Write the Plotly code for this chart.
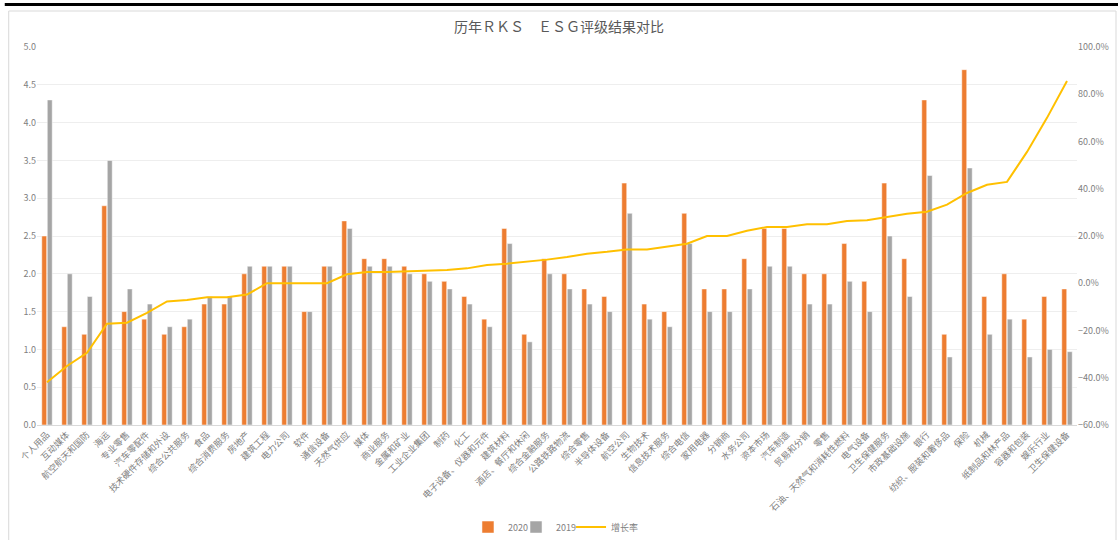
import plotly.graph_objects as go

categories = ["个人用品", "互动媒体", "航空航天和国防", "海运", "专业零售", "汽车零配件",
              "技术硬件存储和外设", "综合公共服务", "食品", "综合消费服务", "房地产", "建筑工程",
              "电力公司", "软件", "通信设备", "天然气供应", "媒体", "商业服务", "金属和矿业",
              "工业企业集团", "制药", "化工", "电子设备、仪器和元件", "建筑材料", "酒店、餐厅和休闲",
              "综合金融服务", "公路铁路物流", "综合零售", "半导体设备", "航空公司", "生物技术",
              "信息技术服务", "综合电信", "家用电器", "分销商", "水务公司", "资本市场", "汽车制造",
              "贸易和分销", "零售", "石油、天然气和消耗性燃料", "电气设备", "卫生保健服务",
              "市政基础设施", "银行", "纺织、服装和奢侈品", "保险", "机械", "纸制品和林产品",
              "容器和包装", "娱乐行业", "卫生保健设备"]

values_2020 = [2.5, 1.3, 1.2, 2.9, 1.5, 1.4, 1.2, 1.3, 1.6, 1.6, 2.0, 2.1, 2.1, 1.5, 2.1, 2.7,
               2.2, 2.2, 2.1, 2.0, 1.9, 1.7, 1.4, 2.6, 1.2, 2.2, 2.0, 1.8, 1.7, 3.2, 1.6, 1.5,
               2.8, 1.8, 1.8, 2.2, 2.6, 2.6, 2.0, 2.0, 2.4, 1.9, 3.2, 2.2, 4.3, 1.2, 4.7, 1.7,
               2.0, 1.4, 1.7, 1.8]

values_2019 = [4.3, 2.0, 1.7, 3.5, 1.8, 1.6, 1.3, 1.4, 1.7, 1.7, 2.1, 2.1, 2.1, 1.5, 2.1, 2.6,
               2.1, 2.1, 2.0, 1.9, 1.8, 1.6, 1.3, 2.4, 1.1, 2.0, 1.8, 1.6, 1.5, 2.8, 1.4, 1.3,
               2.4, 1.5, 1.5, 1.8, 2.1, 2.1, 1.6, 1.6, 1.9, 1.5, 2.5, 1.7, 3.3, 0.9, 3.4, 1.2,
               1.4, 0.9, 1.0, 0.97]

growth = [-0.419, -0.35, -0.294, -0.171, -0.167, -0.125, -0.077, -0.071, -0.059, -0.059,
          -0.048, 0.0, 0.0, 0.0, 0.0, 0.038, 0.048, 0.048, 0.05, 0.053, 0.056, 0.063, 0.077,
          0.083, 0.091, 0.10, 0.111, 0.125, 0.133, 0.143, 0.143, 0.154, 0.167, 0.20, 0.20,
          0.222, 0.238, 0.238, 0.25, 0.25, 0.263, 0.267, 0.28, 0.294, 0.303, 0.333, 0.382,
          0.417, 0.429, 0.556, 0.70, 0.856]

title_text = "历年ＲＫＳ　ＥＳＧ评级结果对比"

font_family = "Noto Sans CJK SC, Noto Sans, sans-serif"
tick_color = "#7f7f7f"

fig = go.Figure()
fig.add_trace(go.Bar(x=categories, y=values_2020, name="2020", legend="legend",
                     marker=dict(color="#ED7D31", line=dict(color="white", width=0.5))))
fig.add_trace(go.Bar(x=categories, y=values_2019, name="2019", legend="legend2",
                     marker=dict(color="#A5A5A5", line=dict(color="white", width=0.5))))
fig.add_trace(go.Scatter(x=categories, y=growth, name="增长率", mode="lines", legend="legend3",
                         line=dict(color="#FFC000", width=2), yaxis="y2"))

leg_common = dict(orientation="h", xanchor="left", y=-0.27, yanchor="middle",
                  font=dict(size=9, color=tick_color), bgcolor="rgba(0,0,0,0)")

fig.update_layout(
    width=1118, height=540,
    paper_bgcolor="white", plot_bgcolor="white",
    margin=dict(l=37, r=41, t=47, b=115, autoexpand=False),
    hovermode=False, showlegend=True,
    title=dict(text=title_text, x=0.5, xanchor="center", y=0.95, yanchor="middle",
               font=dict(family=font_family, size=14, color="#595959")),
    barmode="group", bargap=0.45, bargroupgap=0.1,
    font=dict(family=font_family, color=tick_color, size=9),
    xaxis=dict(tickangle=-45, tickfont=dict(size=9, color=tick_color), showgrid=False,
               showline=True, linecolor="#d9d9d9", linewidth=1, ticks="", automargin=False),
    yaxis=dict(range=[0, 5], dtick=0.5, tickformat=".1f", showgrid=True,
               gridcolor="#eeeeee", gridwidth=1, zeroline=False, automargin=False,
               tickfont=dict(size=9, color=tick_color), ticks=""),
    yaxis2=dict(range=[-0.6, 1.0], dtick=0.2, tickformat=".1%", overlaying="y", side="right",
                showgrid=False, zeroline=False, automargin=False,
                tickfont=dict(size=9, color=tick_color), ticks=""),
    legend=dict(x=0.4144, **leg_common),
    legend2=dict(x=0.4606, **leg_common),
    legend3=dict(x=0.5135, **leg_common),
    shapes=[
        dict(type="rect", xref="paper", yref="paper", x0=-0.0272, x1=1.0375, y0=-0.31, y1=1.0952,
             line=dict(color="#d9d9d9", width=1), fillcolor="rgba(0,0,0,0)", layer="below"),
        dict(type="line", xref="paper", yref="paper", x0=-0.031, x1=1.04, y0=1.1124, y1=1.1124,
             line=dict(color="black", width=3)),
    ],
)

fig.write_html("out.html", config={"staticPlot": True},
               post_script="document.body.style.margin='0';")
